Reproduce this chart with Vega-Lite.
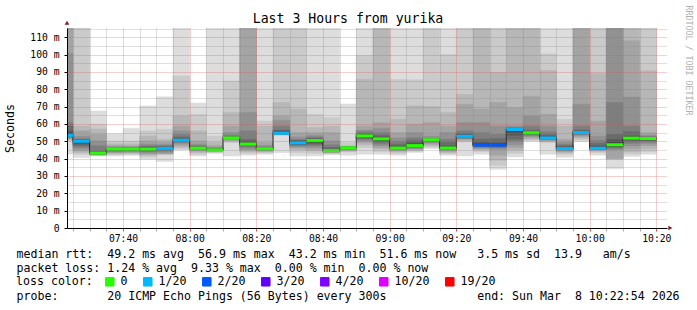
{
 "$schema": "https://vega.github.io/schema/vega-lite/v6.json",
 "width": 600, "height": 200,
 "autosize": {"type": "none"},
 "padding": {"left": 67, "top": 28, "right": 30, "bottom": 82},
 "background": "#ffffff",
 "config": {"view": {"stroke": null}, "font": "DejaVu Sans Mono", "axis": {"labelOverlap": false, "labelFlush": false}},
 "title": {"text": "Last 3 Hours from yurika", "fontSize": 13.2, "fontWeight": "normal", "color": "#000000", "anchor": "middle", "frame": "group", "dx": -19, "dy": 25, "offset": 4},
 "datasets": {
  "cols": [
   {"s":20,"e":25,"med":53.4,"loss":"1/20","p1":42.5,"p2":50.2,"p3":50.8,"p4":51.3,"p5":51.8,"p6":52.2,"p7":52.6,"p8":52.9,"p9":53.1,"p10":53.3,"p11":53.7,"p12":54.5,"p13":56,"p14":58.8,"p15":60.8,"p16":100.8,"p17":120,"p18":120,"p19":120,"p20":120},
   {"s":25,"e":30,"med":50.0,"loss":"1/20","p1":40.6,"p2":42.5,"p3":43.5,"p4":44.5,"p5":45.4,"p6":46.5,"p7":47.5,"p8":48.5,"p9":49.3,"p10":49.9,"p11":50.1,"p12":50.4,"p13":50.7,"p14":51,"p15":51.5,"p16":53,"p17":56,"p18":58.8,"p19":120,"p20":120},
   {"s":30,"e":35,"med":43.2,"loss":"0","p1":41.5,"p2":41.8,"p3":42,"p4":42.2,"p5":42.4,"p6":42.6,"p7":42.8,"p8":42.9,"p9":43,"p10":43.1,"p11":43.3,"p12":43.6,"p13":43.9,"p14":44.4,"p15":47.5,"p16":50.2,"p17":54,"p18":57,"p19":59.8,"p20":67.5},
   {"s":35,"e":40,"med":45.5,"loss":"0","p1":41.5,"p2":42.2,"p3":42.8,"p4":43.3,"p5":43.8,"p6":44.3,"p7":44.7,"p8":45,"p9":45.2,"p10":45.4,"p11":45.6,"p12":45.7,"p13":45.8,"p14":46,"p15":46.3,"p16":46.8,"p17":47.5,"p18":48.5,"p19":50.2,"p20":54.4},
   {"s":40,"e":45,"med":45.5,"loss":"0","p1":41.8,"p2":42.5,"p3":43,"p4":43.5,"p5":44,"p6":44.4,"p7":44.8,"p8":45,"p9":45.2,"p10":45.4,"p11":45.6,"p12":45.8,"p13":45.9,"p14":46.1,"p15":46.4,"p16":46.8,"p17":47.3,"p18":48.5,"p19":50.2,"p20":57.5},
   {"s":45,"e":50,"med":45.5,"loss":"0","p1":39.6,"p2":41,"p3":42,"p4":42.5,"p5":43.3,"p6":44,"p7":44.5,"p8":44.9,"p9":45.2,"p10":45.4,"p11":45.7,"p12":46,"p13":46.3,"p14":46.8,"p15":47.5,"p16":48.5,"p17":50.2,"p18":53,"p19":56,"p20":70.4},
   {"s":50,"e":55,"med":45.9,"loss":"1/20","p1":38.3,"p2":42.5,"p3":42.6,"p4":42.7,"p5":43.5,"p6":44.3,"p7":44.9,"p8":45.3,"p9":45.6,"p10":45.8,"p11":46.1,"p12":46.3,"p13":46.6,"p14":47,"p15":47.5,"p16":48.3,"p17":49.5,"p18":51.2,"p19":56.9,"p20":75.6},
   {"s":55,"e":60,"med":50.6,"loss":"1/20","p1":45,"p2":45.5,"p3":46.5,"p4":47.5,"p5":48.5,"p6":49.3,"p7":49.8,"p8":50.1,"p9":50.3,"p10":50.5,"p11":50.7,"p12":51,"p13":51.5,"p14":52.5,"p15":54,"p16":56,"p17":58.8,"p18":64.6,"p19":87.7,"p20":120},
   {"s":60,"e":65,"med":46.0,"loss":"0","p1":41.5,"p2":42.5,"p3":43.5,"p4":44.3,"p5":44.8,"p6":45.2,"p7":45.5,"p8":45.7,"p9":45.8,"p10":45.9,"p11":46.1,"p12":46.3,"p13":46.6,"p14":47,"p15":47.5,"p16":48.5,"p17":50.2,"p18":56,"p19":65.6,"p20":72},
   {"s":65,"e":70,"med":45.0,"loss":"0","p1":43,"p2":43.5,"p3":44,"p4":44.3,"p5":44.5,"p6":44.7,"p7":44.8,"p8":44.9,"p9":44.95,"p10":45,"p11":45.2,"p12":45.3,"p13":45.5,"p14":45.7,"p15":46,"p16":46.5,"p17":47.5,"p18":49.2,"p19":53,"p20":120},
   {"s":70,"e":75,"med":51.9,"loss":"0","p1":41.5,"p2":49.2,"p3":50,"p4":50.5,"p5":51,"p6":51.3,"p7":51.5,"p8":51.7,"p9":51.8,"p10":51.9,"p11":52,"p12":52.2,"p13":52.5,"p14":52.8,"p15":53.5,"p16":55,"p17":58.8,"p18":66.5,"p19":84.8,"p20":120},
   {"s":75,"e":80,"med":48.4,"loss":"0","p1":42,"p2":43,"p3":44,"p4":44.8,"p5":45.4,"p6":46.5,"p7":47.3,"p8":47.8,"p9":48.1,"p10":48.3,"p11":48.5,"p12":49,"p13":50,"p14":51,"p15":56,"p16":66.5,"p17":120,"p18":120,"p19":120,"p20":120},
   {"s":80,"e":85,"med":45.7,"loss":"0","p1":42.5,"p2":43.3,"p3":43.8,"p4":44.3,"p5":44.7,"p6":45,"p7":45.2,"p8":45.4,"p9":45.5,"p10":45.6,"p11":45.8,"p12":45.9,"p13":46.1,"p14":46.4,"p15":46.8,"p16":47.5,"p17":49.2,"p18":58.8,"p19":61.7,"p20":120},
   {"s":85,"e":90,"med":54.7,"loss":"1/20","p1":43.4,"p2":53.5,"p3":53.8,"p4":54,"p5":54.1,"p6":54.2,"p7":54.3,"p8":54.35,"p9":54.4,"p10":54.5,"p11":54.8,"p12":55.3,"p13":56,"p14":56.5,"p15":58.8,"p16":62,"p17":64.6,"p18":72.3,"p19":120,"p20":120},
   {"s":90,"e":95,"med":49.1,"loss":"1/20","p1":41.5,"p2":43.5,"p3":45,"p4":46,"p5":46.8,"p6":47.4,"p7":48,"p8":48.4,"p9":48.7,"p10":49,"p11":49.3,"p12":49.8,"p13":50.2,"p14":50.5,"p15":51,"p16":52.5,"p17":55,"p18":68.5,"p19":120,"p20":120},
   {"s":95,"e":100,"med":50.4,"loss":"0","p1":41.5,"p2":43,"p3":44.5,"p4":45.4,"p5":46.5,"p6":47.5,"p7":48.3,"p8":49,"p9":49.7,"p10":50.3,"p11":50.5,"p12":50.8,"p13":51.2,"p14":51.8,"p15":52.5,"p16":53.5,"p17":55,"p18":57.9,"p19":65.6,"p20":120},
   {"s":100,"e":105,"med":44.6,"loss":"0","p1":42.3,"p2":42.8,"p3":43.2,"p4":43.5,"p5":43.8,"p6":44,"p7":44.2,"p8":44.3,"p9":44.5,"p10":44.6,"p11":44.8,"p12":45,"p13":45.4,"p14":46.5,"p15":48,"p16":50.2,"p17":55,"p18":58.8,"p19":63.7,"p20":120},
   {"s":105,"e":110,"med":46.2,"loss":"0","p1":42,"p2":43.8,"p3":44.3,"p4":44.8,"p5":45.2,"p6":45.5,"p7":45.7,"p8":45.9,"p9":46,"p10":46.1,"p11":46.3,"p12":46.4,"p13":46.5,"p14":46.6,"p15":46.7,"p16":46.8,"p17":47,"p18":47.3,"p19":49.2,"p20":71.5},
   {"s":110,"e":115,"med":53.1,"loss":"0","p1":42.5,"p2":46.3,"p3":48,"p4":49.2,"p5":50.2,"p6":51,"p7":51.7,"p8":52.2,"p9":52.6,"p10":53,"p11":53.2,"p12":53.6,"p13":54,"p14":54.5,"p15":55.5,"p16":56.5,"p17":58.8,"p18":85.8,"p19":99.5,"p20":120},
   {"s":115,"e":120,"med":51.4,"loss":"0","p1":42.5,"p2":44,"p3":45.5,"p4":46.3,"p5":47.5,"p6":48.5,"p7":49.5,"p8":50.2,"p9":50.8,"p10":51.3,"p11":51.6,"p12":52,"p13":52.5,"p14":53.5,"p15":55,"p16":57.5,"p17":60.8,"p18":120,"p19":120,"p20":120},
   {"s":120,"e":125,"med":46.1,"loss":"0","p1":42,"p2":43,"p3":43.8,"p4":44.4,"p5":44.9,"p6":45.3,"p7":45.6,"p8":45.8,"p9":45.9,"p10":46,"p11":46.2,"p12":46.7,"p13":47.3,"p14":48.3,"p15":50,"p16":52,"p17":55,"p18":62.7,"p19":85.6,"p20":120},
   {"s":125,"e":130,"med":47.5,"loss":"0","p1":43.5,"p2":44.2,"p3":44.8,"p4":45.3,"p5":45.8,"p6":46.3,"p7":46.7,"p8":47,"p9":47.2,"p10":47.4,"p11":47.7,"p12":48.3,"p13":49.2,"p14":50.5,"p15":52,"p16":55,"p17":59.8,"p18":70.4,"p19":85.5,"p20":120},
   {"s":130,"e":135,"med":50.8,"loss":"0","p1":45.8,"p2":46.5,"p3":47.5,"p4":48.3,"p5":49,"p6":49.6,"p7":50,"p8":50.3,"p9":50.5,"p10":50.7,"p11":50.9,"p12":51,"p13":51.1,"p14":51.2,"p15":51.5,"p16":53,"p17":60.8,"p18":70,"p19":120,"p20":120},
   {"s":135,"e":140,"med":46.1,"loss":"0","p1":42,"p2":42.8,"p3":43.5,"p4":44.2,"p5":44.8,"p6":45.2,"p7":45.5,"p8":45.7,"p9":45.9,"p10":46,"p11":46.2,"p12":46.7,"p13":47.3,"p14":49.5,"p15":51.2,"p16":55,"p17":58.8,"p18":66.5,"p19":100,"p20":120},
   {"s":140,"e":145,"med":52.9,"loss":"1/20","p1":41.5,"p2":49.6,"p3":50.3,"p4":50.9,"p5":51.4,"p6":51.8,"p7":52.1,"p8":52.4,"p9":52.6,"p10":52.8,"p11":53,"p12":53.4,"p13":54,"p14":54.5,"p15":56,"p16":60.8,"p17":71.3,"p18":77,"p19":120,"p20":120},
   {"s":145,"e":150,"med":47.8,"loss":"2/20","p1":42.5,"p2":44,"p3":45,"p4":45.5,"p5":46,"p6":46.5,"p7":47,"p8":47.3,"p9":47.5,"p10":47.7,"p11":48,"p12":48.5,"p13":49.5,"p14":51.2,"p15":55,"p16":60.8,"p17":68.5,"p18":120,"p19":120,"p20":120},
   {"s":150,"e":155,"med":47.8,"loss":"2/20","p1":33.8,"p2":36,"p3":39,"p4":42,"p5":45.4,"p6":46.2,"p7":46.8,"p8":47.1,"p9":47.4,"p10":47.6,"p11":48,"p12":48.5,"p13":49.2,"p14":51.5,"p15":54,"p16":58.8,"p17":72.3,"p18":89.6,"p19":120,"p20":120},
   {"s":155,"e":160,"med":56.8,"loss":"1/20","p1":41,"p2":43,"p3":45,"p4":46.3,"p5":48,"p6":50,"p7":51.2,"p8":53.5,"p9":55.5,"p10":56.5,"p11":56.8,"p12":57,"p13":57.2,"p14":57.5,"p15":58,"p16":58.8,"p17":69.4,"p18":120,"p19":120,"p20":120},
   {"s":160,"e":165,"med":54.9,"loss":"0","p1":50,"p2":50.6,"p3":51.2,"p4":52,"p5":52.8,"p6":53.4,"p7":53.9,"p8":54.3,"p9":54.6,"p10":54.8,"p11":55,"p12":55.3,"p13":55.6,"p14":56.5,"p15":58.8,"p16":64.6,"p17":76,"p18":120,"p19":120,"p20":120},
   {"s":165,"e":170,"med":51.9,"loss":"1/20","p1":42.5,"p2":49.2,"p3":49.8,"p4":50.3,"p5":50.7,"p6":51,"p7":51.3,"p8":51.5,"p9":51.7,"p10":51.8,"p11":52,"p12":52.4,"p13":53,"p14":54,"p15":55.5,"p16":58.8,"p17":65.6,"p18":90.8,"p19":100.4,"p20":120},
   {"s":170,"e":175,"med":45.8,"loss":"1/20","p1":40.8,"p2":42.5,"p3":43.3,"p4":44,"p5":44.5,"p6":44.9,"p7":45.2,"p8":45.4,"p9":45.6,"p10":45.7,"p11":46,"p12":46.3,"p13":46.8,"p14":47.3,"p15":48.3,"p16":49.5,"p17":51.2,"p18":58.8,"p19":62.7,"p20":120},
   {"s":175,"e":180,"med":55.0,"loss":"1/20","p1":49.8,"p2":50.8,"p3":51.8,"p4":52.6,"p5":53.3,"p6":53.9,"p7":54.3,"p8":54.6,"p9":54.8,"p10":54.9,"p11":55.1,"p12":55.4,"p13":55.8,"p14":56.5,"p15":58.8,"p16":71.3,"p17":120,"p18":120,"p19":120,"p20":120},
   {"s":180,"e":185,"med":46.0,"loss":"1/20","p1":42,"p2":43.5,"p3":44.2,"p4":44.7,"p5":45.1,"p6":45.4,"p7":45.6,"p8":45.7,"p9":45.8,"p10":45.9,"p11":46.2,"p12":46.7,"p13":47.3,"p14":48.8,"p15":50.5,"p16":53,"p17":61.7,"p18":89,"p19":120,"p20":120},
   {"s":185,"e":190,"med":48.0,"loss":"0","p1":34.2,"p2":39.6,"p3":39.8,"p4":40,"p5":45,"p6":45.8,"p7":46.5,"p8":47,"p9":47.5,"p10":48,"p11":48.3,"p12":49.5,"p13":51,"p14":54,"p15":72.3,"p16":120,"p17":120,"p18":120,"p19":120,"p20":120},
   {"s":190,"e":195,"med":51.8,"loss":"0","p1":41.2,"p2":42.5,"p3":44,"p4":45.5,"p5":47.3,"p6":48.8,"p7":50,"p8":50.8,"p9":51.3,"p10":51.7,"p11":52,"p12":52.4,"p13":53,"p14":55.5,"p15":58.8,"p16":75.5,"p17":108,"p18":120,"p19":120,"p20":120},
   {"s":195,"e":200,"med":51.6,"loss":"0","p1":42.5,"p2":44,"p3":45.5,"p4":47.3,"p5":48.5,"p6":49.5,"p7":50.2,"p8":50.7,"p9":51.1,"p10":51.5,"p11":51.7,"p12":51.9,"p13":52.1,"p14":52.4,"p15":52.8,"p16":53.5,"p17":55,"p18":90.6,"p19":120,"p20":120}
  ]
 },
 "layer": [
  {
   "data": {"name": "cols"},
   "encoding": {
    "x": {"field": "s", "type": "quantitative",
     "scale": {"domain": [23.2, 203.2], "nice": false, "zero": false},
     "axis": {
      "values": [25,30,35,40,45,50,55,60,65,70,75,80,85,90,95,100,105,110,115,120,125,130,135,140,145,150,155,160,165,170,175,180,185,190,195,200],
      "labelExpr": "datum.value % 20 != 0 ? '' : format(7 + floor(datum.value / 60), '02d') + ':' + format(datum.value % 60, '02d')",
      "labelFontSize": 9.7, "labelColor": "#000000", "labelPadding": 2, "labelOverlap": false, "labelFlush": false,
      "tickSize": 3,
      "tickColor": {"condition": {"test": "datum.value % 20 == 0", "value": "#e05050"}, "value": "#aaaaaa"},
      "gridColor": {"condition": {"test": "datum.value % 20 == 0", "value": "rgba(224,80,80,0.55)"}, "value": "rgba(128,128,128,0.5)"},
      "gridDash": [1, 1], "gridWidth": 1,
      "domainColor": "#000000", "domainWidth": 1, "zindex": 1,
      "title": ["median rtt:\u00a0\u00a049.2\u00a0ms\u00a0avg\u00a0\u00a056.9\u00a0ms\u00a0max\u00a0\u00a043.2\u00a0ms\u00a0min\u00a0\u00a051.6\u00a0ms\u00a0now\u00a0\u00a0\u00a03.5\u00a0ms\u00a0sd\u00a0\u00a013.9\u00a0\u00a0\u00a0am/s",
                "packet\u00a0loss:\u00a01.24\u00a0%\u00a0avg\u00a0\u00a09.33\u00a0%\u00a0max\u00a0\u00a00.00\u00a0%\u00a0min\u00a0\u00a00.00\u00a0%\u00a0now"],
      "titleFontSize": 11.6, "titleFontWeight": "normal", "titleColor": "#000000",
      "titleAlign": "left", "titleAnchor": "start", "titleBaseline": "alphabetic",
      "titleX": -51, "titleY": 29.7, "titleLineHeight": 14
     }
    }
   },
   "layer": [
    {"mark": {"type": "rect", "fill": "#dddddd", "stroke": "#dddddd", "strokeWidth": 0.5, "clip": true},
     "encoding": {"x2": {"field": "e"},
      "y": {"field": "p1", "type": "quantitative", "scale": {"domain": [0, 115.3], "nice": false, "zero": true},
       "axis": {"title": "Seconds", "titleFontSize": 11.6, "titleFontWeight": "normal", "titleColor": "#000000", "titleX": -56.5, "titleY": 100, "titleAngle": -90, "titleAlign": "center", "titleBaseline": "middle", "values": [0,5,10,15,20,25,30,35,40,45,50,55,60,65,70,75,80,85,90,95,100,105,110,115], "labelExpr": "datum.value % 10 != 0 ? '' : (datum.value == 0 ? '0\u00a0\u00a0' : datum.value + ' m')", "labelFontSize": 9.7, "labelColor": "#000000", "labelPadding": 5, "labelOverlap": false, "labelFlush": false, "tickSize": 3, "tickColor": {"condition": {"test": "datum.value % 10 == 0", "value": "#000000"}, "value": "rgba(0,0,0,0)"}, "gridColor": {"condition": {"test": "datum.value % 10 == 0", "value": "rgba(224,80,80,0.55)"}, "value": "rgba(128,128,128,0.5)"}, "gridDash": [1, 1], "gridWidth": 1, "domainColor": "#000000", "domainWidth": 1, "zindex": 1}},
      "y2": {"field": "p20"}}},
    {"mark": {"type": "rect", "fill": "#cacaca", "stroke": "#cacaca", "strokeWidth": 0.5, "clip": true},
     "encoding": {"x2": {"field": "e"},
      "y": {"field": "p2", "type": "quantitative", "axis": {"title": "Seconds", "titleFontSize": 11.6, "titleFontWeight": "normal", "titleColor": "#000000", "titleX": -56.5, "titleY": 100, "titleAngle": -90, "titleAlign": "center", "titleBaseline": "middle", "values": [0,5,10,15,20,25,30,35,40,45,50,55,60,65,70,75,80,85,90,95,100,105,110,115], "labelExpr": "datum.value % 10 != 0 ? '' : (datum.value == 0 ? '0\u00a0\u00a0' : datum.value + ' m')", "labelFontSize": 9.7, "labelColor": "#000000", "labelPadding": 5, "labelOverlap": false, "labelFlush": false, "tickSize": 3, "tickColor": {"condition": {"test": "datum.value % 10 == 0", "value": "#000000"}, "value": "rgba(0,0,0,0)"}, "gridColor": {"condition": {"test": "datum.value % 10 == 0", "value": "rgba(224,80,80,0.55)"}, "value": "rgba(128,128,128,0.5)"}, "gridDash": [1, 1], "gridWidth": 1, "domainColor": "#000000", "domainWidth": 1, "zindex": 1}},
      "y2": {"field": "p19"}}},
    {"mark": {"type": "rect", "fill": "#b7b7b7", "stroke": "#b7b7b7", "strokeWidth": 0.5, "clip": true},
     "encoding": {"x2": {"field": "e"},
      "y": {"field": "p3", "type": "quantitative", "axis": {"title": "Seconds", "titleFontSize": 11.6, "titleFontWeight": "normal", "titleColor": "#000000", "titleX": -56.5, "titleY": 100, "titleAngle": -90, "titleAlign": "center", "titleBaseline": "middle", "values": [0,5,10,15,20,25,30,35,40,45,50,55,60,65,70,75,80,85,90,95,100,105,110,115], "labelExpr": "datum.value % 10 != 0 ? '' : (datum.value == 0 ? '0\u00a0\u00a0' : datum.value + ' m')", "labelFontSize": 9.7, "labelColor": "#000000", "labelPadding": 5, "labelOverlap": false, "labelFlush": false, "tickSize": 3, "tickColor": {"condition": {"test": "datum.value % 10 == 0", "value": "#000000"}, "value": "rgba(0,0,0,0)"}, "gridColor": {"condition": {"test": "datum.value % 10 == 0", "value": "rgba(224,80,80,0.55)"}, "value": "rgba(128,128,128,0.5)"}, "gridDash": [1, 1], "gridWidth": 1, "domainColor": "#000000", "domainWidth": 1, "zindex": 1}},
      "y2": {"field": "p18"}}},
    {"mark": {"type": "rect", "fill": "#a4a4a4", "stroke": "#a4a4a4", "strokeWidth": 0.5, "clip": true},
     "encoding": {"x2": {"field": "e"},
      "y": {"field": "p4", "type": "quantitative", "axis": {"title": "Seconds", "titleFontSize": 11.6, "titleFontWeight": "normal", "titleColor": "#000000", "titleX": -56.5, "titleY": 100, "titleAngle": -90, "titleAlign": "center", "titleBaseline": "middle", "values": [0,5,10,15,20,25,30,35,40,45,50,55,60,65,70,75,80,85,90,95,100,105,110,115], "labelExpr": "datum.value % 10 != 0 ? '' : (datum.value == 0 ? '0\u00a0\u00a0' : datum.value + ' m')", "labelFontSize": 9.7, "labelColor": "#000000", "labelPadding": 5, "labelOverlap": false, "labelFlush": false, "tickSize": 3, "tickColor": {"condition": {"test": "datum.value % 10 == 0", "value": "#000000"}, "value": "rgba(0,0,0,0)"}, "gridColor": {"condition": {"test": "datum.value % 10 == 0", "value": "rgba(224,80,80,0.55)"}, "value": "rgba(128,128,128,0.5)"}, "gridDash": [1, 1], "gridWidth": 1, "domainColor": "#000000", "domainWidth": 1, "zindex": 1}},
      "y2": {"field": "p17"}}},
    {"mark": {"type": "rect", "fill": "#919191", "stroke": "#919191", "strokeWidth": 0.5, "clip": true},
     "encoding": {"x2": {"field": "e"},
      "y": {"field": "p5", "type": "quantitative", "axis": {"title": "Seconds", "titleFontSize": 11.6, "titleFontWeight": "normal", "titleColor": "#000000", "titleX": -56.5, "titleY": 100, "titleAngle": -90, "titleAlign": "center", "titleBaseline": "middle", "values": [0,5,10,15,20,25,30,35,40,45,50,55,60,65,70,75,80,85,90,95,100,105,110,115], "labelExpr": "datum.value % 10 != 0 ? '' : (datum.value == 0 ? '0\u00a0\u00a0' : datum.value + ' m')", "labelFontSize": 9.7, "labelColor": "#000000", "labelPadding": 5, "labelOverlap": false, "labelFlush": false, "tickSize": 3, "tickColor": {"condition": {"test": "datum.value % 10 == 0", "value": "#000000"}, "value": "rgba(0,0,0,0)"}, "gridColor": {"condition": {"test": "datum.value % 10 == 0", "value": "rgba(224,80,80,0.55)"}, "value": "rgba(128,128,128,0.5)"}, "gridDash": [1, 1], "gridWidth": 1, "domainColor": "#000000", "domainWidth": 1, "zindex": 1}},
      "y2": {"field": "p16"}}},
    {"mark": {"type": "rect", "fill": "#7e7e7e", "stroke": "#7e7e7e", "strokeWidth": 0.5, "clip": true},
     "encoding": {"x2": {"field": "e"},
      "y": {"field": "p6", "type": "quantitative", "axis": {"title": "Seconds", "titleFontSize": 11.6, "titleFontWeight": "normal", "titleColor": "#000000", "titleX": -56.5, "titleY": 100, "titleAngle": -90, "titleAlign": "center", "titleBaseline": "middle", "values": [0,5,10,15,20,25,30,35,40,45,50,55,60,65,70,75,80,85,90,95,100,105,110,115], "labelExpr": "datum.value % 10 != 0 ? '' : (datum.value == 0 ? '0\u00a0\u00a0' : datum.value + ' m')", "labelFontSize": 9.7, "labelColor": "#000000", "labelPadding": 5, "labelOverlap": false, "labelFlush": false, "tickSize": 3, "tickColor": {"condition": {"test": "datum.value % 10 == 0", "value": "#000000"}, "value": "rgba(0,0,0,0)"}, "gridColor": {"condition": {"test": "datum.value % 10 == 0", "value": "rgba(224,80,80,0.55)"}, "value": "rgba(128,128,128,0.5)"}, "gridDash": [1, 1], "gridWidth": 1, "domainColor": "#000000", "domainWidth": 1, "zindex": 1}},
      "y2": {"field": "p15"}}},
    {"mark": {"type": "rect", "fill": "#6b6b6b", "stroke": "#6b6b6b", "strokeWidth": 0.5, "clip": true},
     "encoding": {"x2": {"field": "e"},
      "y": {"field": "p7", "type": "quantitative", "axis": {"title": "Seconds", "titleFontSize": 11.6, "titleFontWeight": "normal", "titleColor": "#000000", "titleX": -56.5, "titleY": 100, "titleAngle": -90, "titleAlign": "center", "titleBaseline": "middle", "values": [0,5,10,15,20,25,30,35,40,45,50,55,60,65,70,75,80,85,90,95,100,105,110,115], "labelExpr": "datum.value % 10 != 0 ? '' : (datum.value == 0 ? '0\u00a0\u00a0' : datum.value + ' m')", "labelFontSize": 9.7, "labelColor": "#000000", "labelPadding": 5, "labelOverlap": false, "labelFlush": false, "tickSize": 3, "tickColor": {"condition": {"test": "datum.value % 10 == 0", "value": "#000000"}, "value": "rgba(0,0,0,0)"}, "gridColor": {"condition": {"test": "datum.value % 10 == 0", "value": "rgba(224,80,80,0.55)"}, "value": "rgba(128,128,128,0.5)"}, "gridDash": [1, 1], "gridWidth": 1, "domainColor": "#000000", "domainWidth": 1, "zindex": 1}},
      "y2": {"field": "p14"}}},
    {"mark": {"type": "rect", "fill": "#585858", "stroke": "#585858", "strokeWidth": 0.5, "clip": true},
     "encoding": {"x2": {"field": "e"},
      "y": {"field": "p8", "type": "quantitative", "axis": {"title": "Seconds", "titleFontSize": 11.6, "titleFontWeight": "normal", "titleColor": "#000000", "titleX": -56.5, "titleY": 100, "titleAngle": -90, "titleAlign": "center", "titleBaseline": "middle", "values": [0,5,10,15,20,25,30,35,40,45,50,55,60,65,70,75,80,85,90,95,100,105,110,115], "labelExpr": "datum.value % 10 != 0 ? '' : (datum.value == 0 ? '0\u00a0\u00a0' : datum.value + ' m')", "labelFontSize": 9.7, "labelColor": "#000000", "labelPadding": 5, "labelOverlap": false, "labelFlush": false, "tickSize": 3, "tickColor": {"condition": {"test": "datum.value % 10 == 0", "value": "#000000"}, "value": "rgba(0,0,0,0)"}, "gridColor": {"condition": {"test": "datum.value % 10 == 0", "value": "rgba(224,80,80,0.55)"}, "value": "rgba(128,128,128,0.5)"}, "gridDash": [1, 1], "gridWidth": 1, "domainColor": "#000000", "domainWidth": 1, "zindex": 1}},
      "y2": {"field": "p13"}}},
    {"mark": {"type": "rect", "fill": "#454545", "stroke": "#454545", "strokeWidth": 0.5, "clip": true},
     "encoding": {"x2": {"field": "e"},
      "y": {"field": "p9", "type": "quantitative", "axis": {"title": "Seconds", "titleFontSize": 11.6, "titleFontWeight": "normal", "titleColor": "#000000", "titleX": -56.5, "titleY": 100, "titleAngle": -90, "titleAlign": "center", "titleBaseline": "middle", "values": [0,5,10,15,20,25,30,35,40,45,50,55,60,65,70,75,80,85,90,95,100,105,110,115], "labelExpr": "datum.value % 10 != 0 ? '' : (datum.value == 0 ? '0\u00a0\u00a0' : datum.value + ' m')", "labelFontSize": 9.7, "labelColor": "#000000", "labelPadding": 5, "labelOverlap": false, "labelFlush": false, "tickSize": 3, "tickColor": {"condition": {"test": "datum.value % 10 == 0", "value": "#000000"}, "value": "rgba(0,0,0,0)"}, "gridColor": {"condition": {"test": "datum.value % 10 == 0", "value": "rgba(224,80,80,0.55)"}, "value": "rgba(128,128,128,0.5)"}, "gridDash": [1, 1], "gridWidth": 1, "domainColor": "#000000", "domainWidth": 1, "zindex": 1}},
      "y2": {"field": "p12"}}},
    {"mark": {"type": "rect", "fill": "#323232", "stroke": "#323232", "strokeWidth": 0.5, "clip": true},
     "encoding": {"x2": {"field": "e"},
      "y": {"field": "p10", "type": "quantitative", "axis": {"title": "Seconds", "titleFontSize": 11.6, "titleFontWeight": "normal", "titleColor": "#000000", "titleX": -56.5, "titleY": 100, "titleAngle": -90, "titleAlign": "center", "titleBaseline": "middle", "values": [0,5,10,15,20,25,30,35,40,45,50,55,60,65,70,75,80,85,90,95,100,105,110,115], "labelExpr": "datum.value % 10 != 0 ? '' : (datum.value == 0 ? '0\u00a0\u00a0' : datum.value + ' m')", "labelFontSize": 9.7, "labelColor": "#000000", "labelPadding": 5, "labelOverlap": false, "labelFlush": false, "tickSize": 3, "tickColor": {"condition": {"test": "datum.value % 10 == 0", "value": "#000000"}, "value": "rgba(0,0,0,0)"}, "gridColor": {"condition": {"test": "datum.value % 10 == 0", "value": "rgba(224,80,80,0.55)"}, "value": "rgba(128,128,128,0.5)"}, "gridDash": [1, 1], "gridWidth": 1, "domainColor": "#000000", "domainWidth": 1, "zindex": 1}},
      "y2": {"field": "p11"}}},
    {"mark": {"type": "line", "interpolate": "step-after", "color": "#202020", "strokeWidth": 1, "clip": true},
     "encoding": {"y": {"field": "med", "type": "quantitative", "axis": {"title": "Seconds", "titleFontSize": 11.6, "titleFontWeight": "normal", "titleColor": "#000000", "titleX": -56.5, "titleY": 100, "titleAngle": -90, "titleAlign": "center", "titleBaseline": "middle", "values": [0,5,10,15,20,25,30,35,40,45,50,55,60,65,70,75,80,85,90,95,100,105,110,115], "labelExpr": "datum.value % 10 != 0 ? '' : (datum.value == 0 ? '0\u00a0\u00a0' : datum.value + ' m')", "labelFontSize": 9.7, "labelColor": "#000000", "labelPadding": 5, "labelOverlap": false, "labelFlush": false, "tickSize": 3, "tickColor": {"condition": {"test": "datum.value % 10 == 0", "value": "#000000"}, "value": "rgba(0,0,0,0)"}, "gridColor": {"condition": {"test": "datum.value % 10 == 0", "value": "rgba(224,80,80,0.55)"}, "value": "rgba(128,128,128,0.5)"}, "gridDash": [1, 1], "gridWidth": 1, "domainColor": "#000000", "domainWidth": 1, "zindex": 1}}}},
    {"mark": {"type": "rule", "strokeWidth": 3, "strokeCap": "butt", "clip": true},
     "encoding": {
      "x2": {"field": "e"},
      "y": {"field": "med", "type": "quantitative", "axis": {"title": "Seconds", "titleFontSize": 11.6, "titleFontWeight": "normal", "titleColor": "#000000", "titleX": -56.5, "titleY": 100, "titleAngle": -90, "titleAlign": "center", "titleBaseline": "middle", "values": [0,5,10,15,20,25,30,35,40,45,50,55,60,65,70,75,80,85,90,95,100,105,110,115], "labelExpr": "datum.value % 10 != 0 ? '' : (datum.value == 0 ? '0\u00a0\u00a0' : datum.value + ' m')", "labelFontSize": 9.7, "labelColor": "#000000", "labelPadding": 5, "labelOverlap": false, "labelFlush": false, "tickSize": 3, "tickColor": {"condition": {"test": "datum.value % 10 == 0", "value": "#000000"}, "value": "rgba(0,0,0,0)"}, "gridColor": {"condition": {"test": "datum.value % 10 == 0", "value": "rgba(224,80,80,0.55)"}, "value": "rgba(128,128,128,0.5)"}, "gridDash": [1, 1], "gridWidth": 1, "domainColor": "#000000", "domainWidth": 1, "zindex": 1}},
      "color": {"field": "loss", "type": "nominal",
       "scale": {"domain": ["0", "1/20", "2/20", "3/20", "4/20", "10/20", "19/20"],
                 "range": ["#26ff00", "#00b8ff", "#0059ff", "#5e00ff", "#7e00ff", "#dd00ff", "#ff0000"]},
       "legend": {
        "orient": "none", "legendX": -51, "legendY": 248, "direction": "horizontal", "gridAlign": "none",
        "title": "loss color:", "titleOrient": "left", "titleFontSize": 11.6, "titleFontWeight": "normal",
        "titleColor": "#000000", "titlePadding": 11, "titleBaseline": "middle",
        "symbolType": "square", "symbolSize": 72, "symbolStrokeColor": "#000000", "symbolStrokeWidth": 1,
        "labelFontSize": 11.6, "labelColor": "#000000", "labelOffset": 5, "columnPadding": 13,
        "encode": {"symbols": {"update": {"fill": {"scale": "color", "field": "value"}, "stroke": {"value": "#000000"}, "strokeWidth": {"value": 1}, "opacity": {"value": 1}}}}
       }}}},
    {"data": {"values": [{"s": 23.2, "v": 118.3}]},
     "mark": {"type": "point", "shape": "triangle-up", "filled": true, "size": 22, "color": "#7f1f1f", "opacity": 1},
     "encoding": {"y": {"field": "v", "type": "quantitative", "axis": {"title": "Seconds", "titleFontSize": 11.6, "titleFontWeight": "normal", "titleColor": "#000000", "titleX": -56.5, "titleY": 100, "titleAngle": -90, "titleAlign": "center", "titleBaseline": "middle", "values": [0,5,10,15,20,25,30,35,40,45,50,55,60,65,70,75,80,85,90,95,100,105,110,115], "labelExpr": "datum.value % 10 != 0 ? '' : (datum.value == 0 ? '0\u00a0\u00a0' : datum.value + ' m')", "labelFontSize": 9.7, "labelColor": "#000000", "labelPadding": 5, "labelOverlap": false, "labelFlush": false, "tickSize": 3, "tickColor": {"condition": {"test": "datum.value % 10 == 0", "value": "#000000"}, "value": "rgba(0,0,0,0)"}, "gridColor": {"condition": {"test": "datum.value % 10 == 0", "value": "rgba(224,80,80,0.55)"}, "value": "rgba(128,128,128,0.5)"}, "gridDash": [1, 1], "gridWidth": 1, "domainColor": "#000000", "domainWidth": 1, "zindex": 1}}}},
    {"data": {"values": [{"s": 204.2, "v": 0}]},
     "mark": {"type": "point", "shape": "triangle-right", "filled": true, "size": 22, "color": "#7f1f1f", "opacity": 1},
     "encoding": {"y": {"field": "v", "type": "quantitative", "axis": {"title": "Seconds", "titleFontSize": 11.6, "titleFontWeight": "normal", "titleColor": "#000000", "titleX": -56.5, "titleY": 100, "titleAngle": -90, "titleAlign": "center", "titleBaseline": "middle", "values": [0,5,10,15,20,25,30,35,40,45,50,55,60,65,70,75,80,85,90,95,100,105,110,115], "labelExpr": "datum.value % 10 != 0 ? '' : (datum.value == 0 ? '0\u00a0\u00a0' : datum.value + ' m')", "labelFontSize": 9.7, "labelColor": "#000000", "labelPadding": 5, "labelOverlap": false, "labelFlush": false, "tickSize": 3, "tickColor": {"condition": {"test": "datum.value % 10 == 0", "value": "#000000"}, "value": "rgba(0,0,0,0)"}, "gridColor": {"condition": {"test": "datum.value % 10 == 0", "value": "rgba(224,80,80,0.55)"}, "value": "rgba(128,128,128,0.5)"}, "gridDash": [1, 1], "gridWidth": 1, "domainColor": "#000000", "domainWidth": 1, "zindex": 1}}}}
   ]
  },
  {
   "data": {"values": [{"v": 0, "t": 100}]},
   "mark": {"type": "rule", "opacity": 0},
   "encoding": {
    "x": {"field": "t", "type": "quantitative",
     "axis": {"orient": "top", "labels": false, "ticks": false, "domain": false, "grid": false,
      "title": "probe:\u00a0\u00a0\u00a0\u00a0\u00a0\u00a0\u00a020\u00a0ICMP\u00a0Echo\u00a0Pings\u00a0(56\u00a0Bytes)\u00a0every\u00a0300s\u00a0\u00a0\u00a0\u00a0\u00a0\u00a0\u00a0\u00a0\u00a0\u00a0\u00a0\u00a0\u00a0end:\u00a0Sun\u00a0Mar\u00a0\u00a08\u00a010:22:54\u00a02026",
      "titleFontSize": 11.6, "titleFontWeight": "normal", "titleColor": "#000000",
      "titleAlign": "left", "titleAnchor": "start", "titleBaseline": "alphabetic", "titleAngle": 0,
      "titleX": -51, "titleY": 271.7}},
    "y": {"field": "v", "type": "quantitative",
     "axis": {"orient": "right", "labels": false, "ticks": false, "domain": false, "grid": false,
      "title": "RRDTOOL / TOBI OETIKER", "titleAngle": 90, "titleFontSize": 8.3, "titleFontWeight": "normal",
      "titleColor": "#b0b0b0", "titleX": 20, "titleY": 32, "titleAlign": "center", "titleBaseline": "middle"}}
   }
  }
 ],
 "resolve": {"axis": {"x": "independent", "y": "independent"}}
}
